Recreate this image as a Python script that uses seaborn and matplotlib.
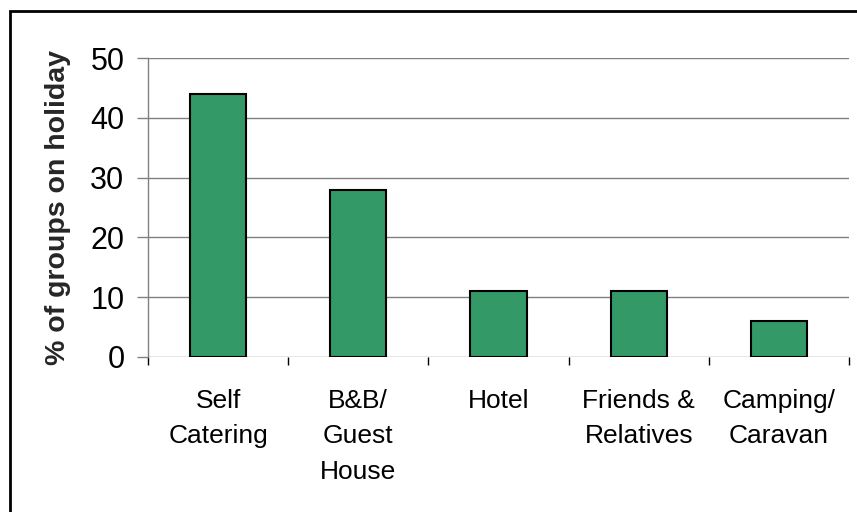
import matplotlib
matplotlib.use("Agg")
import matplotlib.pyplot as plt
import seaborn as sns
import pandas as pd
from matplotlib.patches import Rectangle

# Chart data
categories = ["Self\nCatering", "B&B/\nGuest\nHouse", "Hotel", "Friends &\nRelatives", "Camping/\nCaravan"]
percent_groups = [44, 28, 11, 11, 6]
y_ticks = [0, 10, 20, 30, 40, 50]

df = pd.DataFrame({"accommodation": categories, "percent": percent_groups})

sns.set_theme(style="white")
plt.rcParams["font.family"] = ["Liberation Sans", "DejaVu Sans"]

fig = plt.figure(figsize=(8.57, 5.12), dpi=100)
ax = fig.add_axes([148 / 857, 1 - 357 / 512, (849 - 148) / 857, (357 - 58) / 512])

sns.barplot(data=df, x="accommodation", y="percent", color="#339966",
            saturation=1, width=0.4, edgecolor="black", linewidth=1.5, ax=ax, zorder=3)

ax.set_ylim(0, 50)
ax.set_xlim(-0.5, 4.5)
ax.set_yticks(y_ticks)
ax.yaxis.grid(True, color="#808080", linewidth=1.0, zorder=0)
ax.set_axisbelow(True)

for side in ["top", "right", "bottom"]:
    ax.spines[side].set_visible(False)
ax.spines["left"].set_color("#808080")
ax.spines["left"].set_linewidth(1.0)

ax.tick_params(axis="y", which="major", left=True, length=8, width=1.0,
               color="#808080", pad=9, labelsize=22, labelcolor="black")
ax.tick_params(axis="x", which="major", length=0, pad=23, labelsize=19, labelcolor="black")
ax.set_xticks([i + 0.5 for i in range(-1, 5)], minor=True)
ax.tick_params(axis="x", which="minor", bottom=True, length=6, width=1.0, color="black")
for lbl in ax.get_xticklabels():
    lbl.set_linespacing(1.6)
    lbl.set_verticalalignment("top")

ax.set_xlabel("")
ax.set_ylabel("% of groups on holiday", fontsize=20.5, fontweight="bold", labelpad=14)

# outer chart border (only top and left edges fall inside the image)
fig.patches.append(Rectangle((10 / 857, -0.1), 1.2, 1.1 - 11 / 512,
                             transform=fig.transFigure, fill=False,
                             edgecolor="black", linewidth=2.0))

fig.savefig("out.png", dpi=100)
